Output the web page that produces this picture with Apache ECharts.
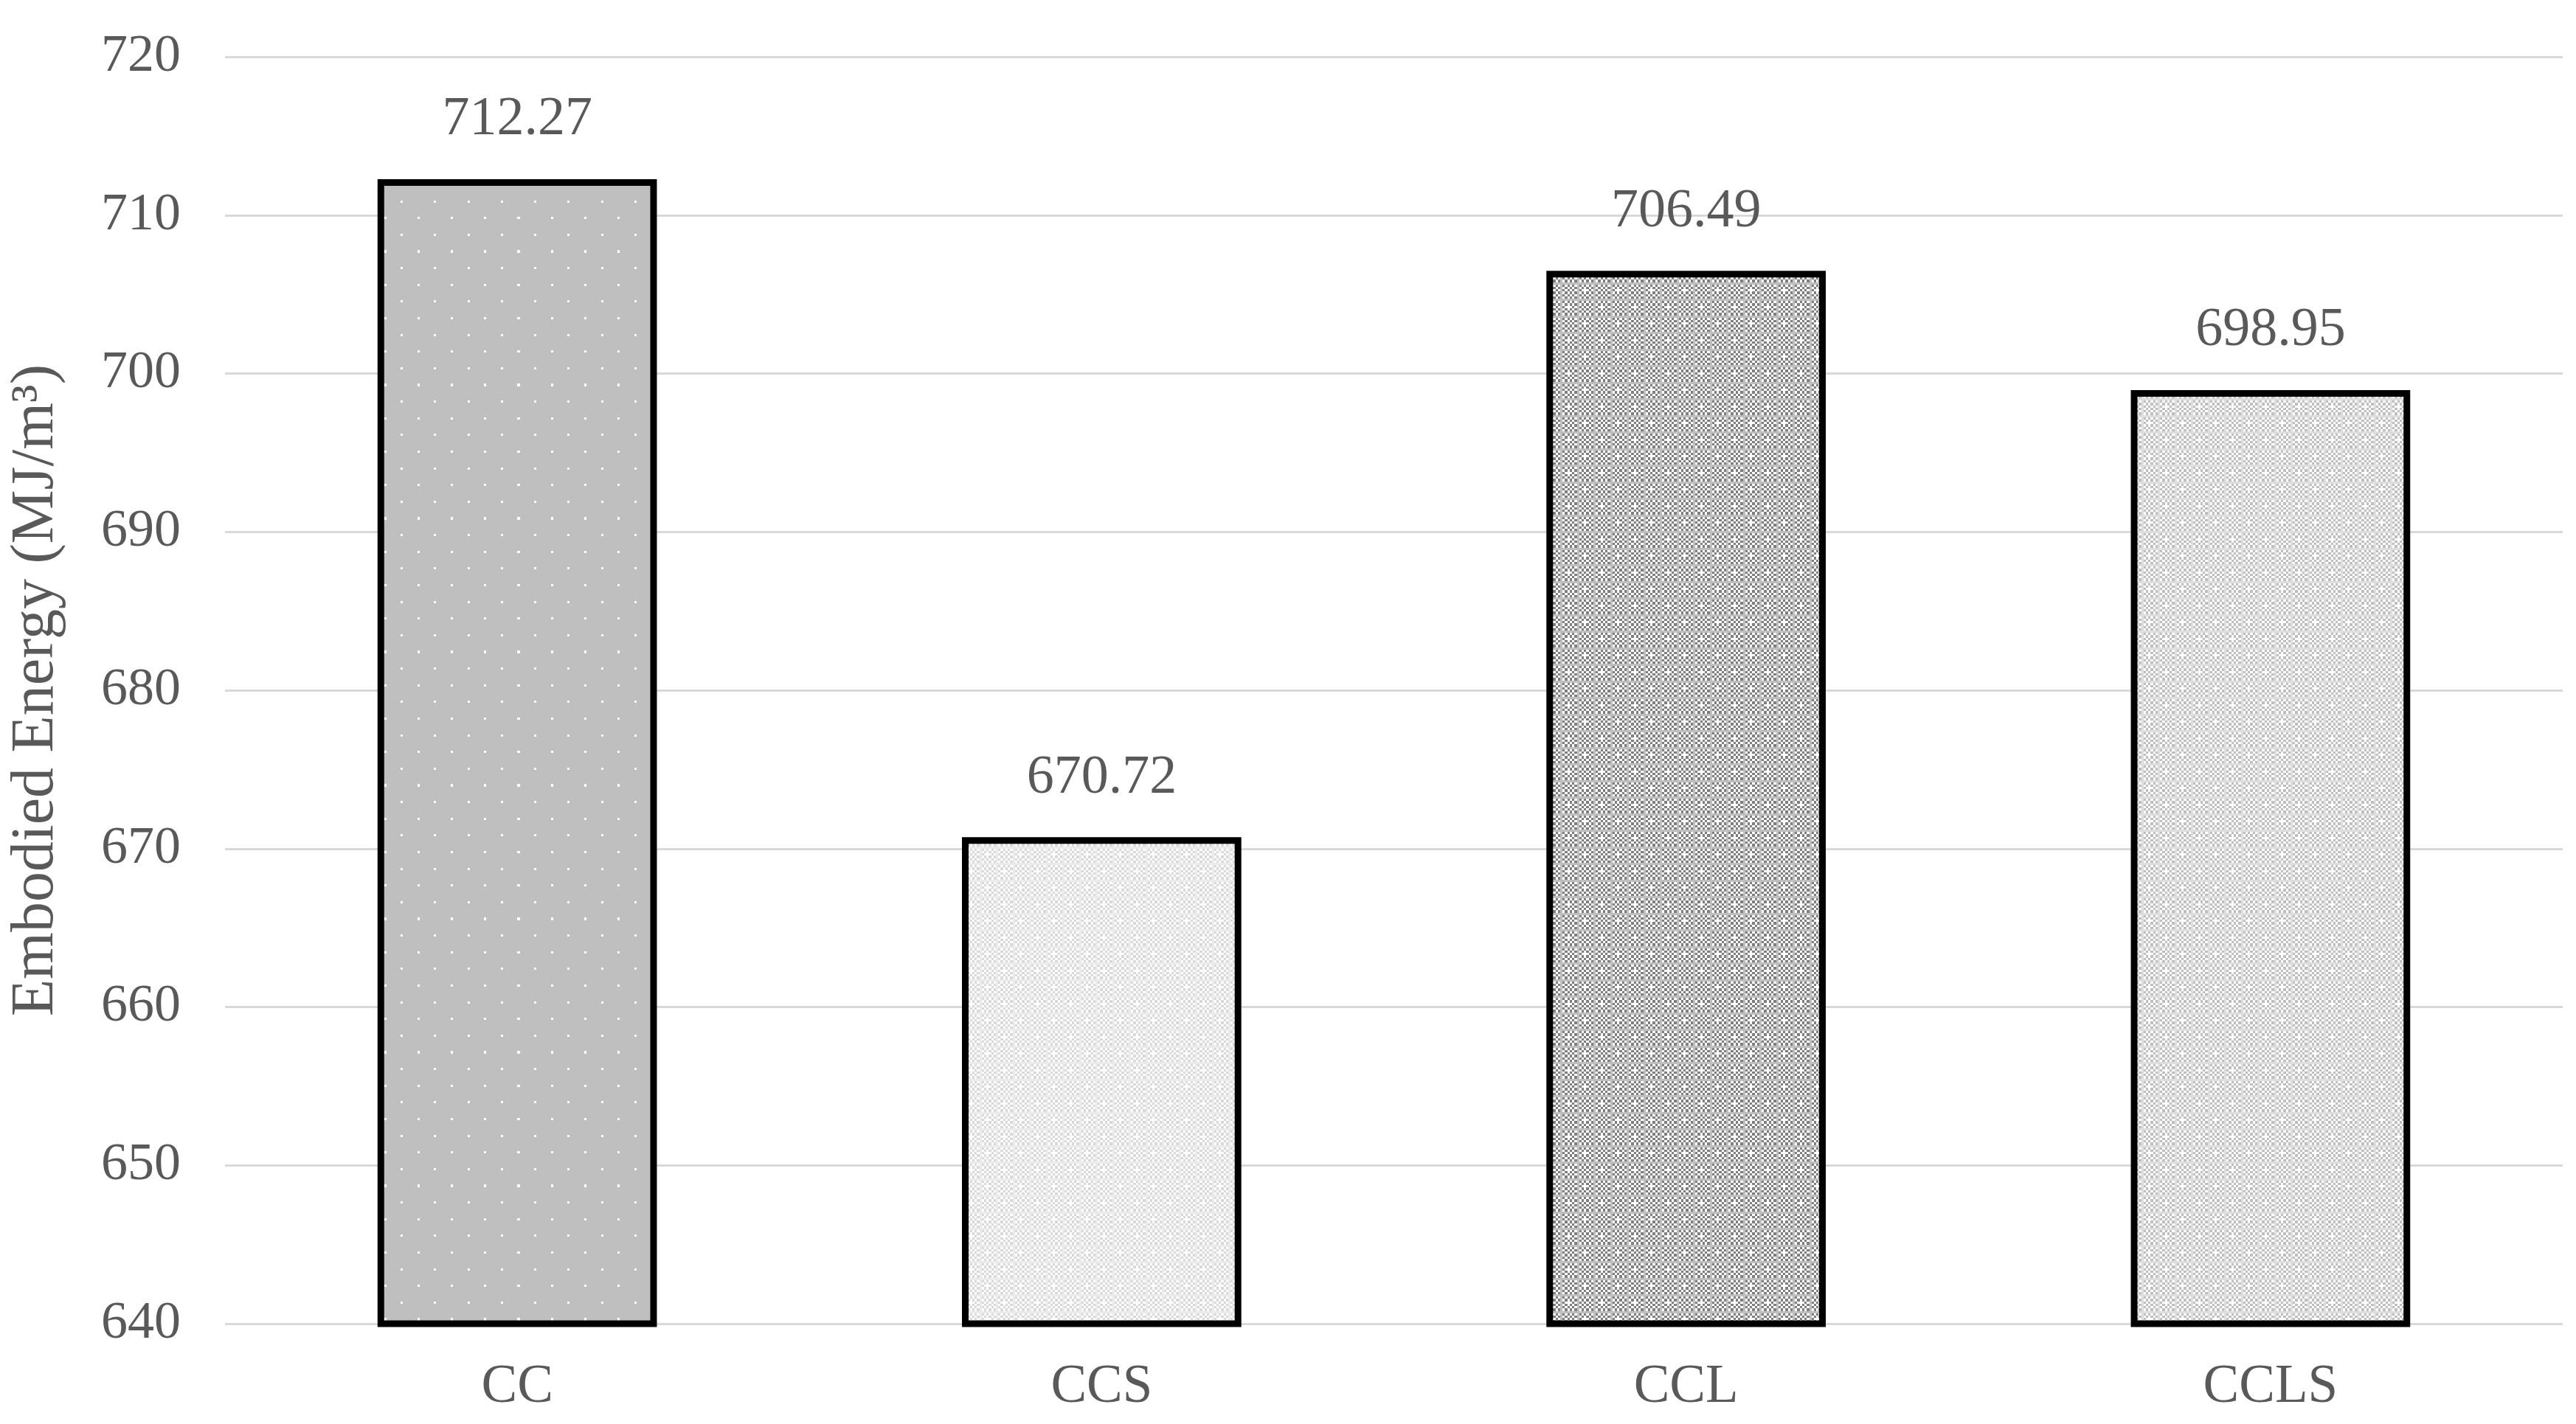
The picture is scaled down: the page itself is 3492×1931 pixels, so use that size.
<!DOCTYPE html>
<html>
<head>
<meta charset="utf-8">
<script src="https://cdn.jsdelivr.net/npm/echarts@6/dist/echarts.min.js"></script>
<style>
html,body{margin:0;padding:0;background:#fff;}
#chart{width:3492px;height:1931px;}
</style>
</head>
<body>
<div id="chart"></div>
<script>
// ---- data ----
const categories = ['CC', 'CCS', 'CCL', 'CCLS'];
const values = [712.27, 670.72, 706.49, 698.95];
const yTicks = { min: 640, max: 720, interval: 10 };
const yAxisTitle = 'Embodied Energy (MJ/m\u00B3)';

// ---- pattern helpers ----
const SCALE = 3.225;
function makeTile(w, h, reps, paint) {
  const size = Math.round(w * reps * SCALE);
  const sizeH = Math.round(h * reps * SCALE);
  const c = document.createElement('canvas');
  c.width = size; c.height = sizeH;
  const ctx = c.getContext('2d');
  const fw = size / (w * reps), fh = sizeH / (h * reps);
  for (let ry = 0; ry < h * reps; ry++) {
    for (let rx = 0; rx < w * reps; rx++) {
      const col = paint(rx % w, ry % h, rx, ry);
      if (!col) continue;
      const x0 = Math.round(rx * fw), x1 = Math.round((rx + 1) * fw);
      const y0 = Math.round(ry * fh), y1 = Math.round((ry + 1) * fh);
      ctx.fillStyle = col;
      ctx.fillRect(x0, y0, x1 - x0, y1 - y0);
    }
  }
  return c;
}
function dotPattern(bg, dot) {
  return makeTile(14, 14, 4, (x, y) => {
    if ((x === 0 && y === 0) || (x === 7 && y === 7)) return dot;
    return bg;
  });
}
function checkPattern(dark, line, light) {
  return makeTile(7, 7, 6, (x, y, rx, ry) => {
    if (x === 0 || y === 0) return line;
    // white plus accents in alternating cells
    const cx = Math.floor(rx / 7), cy = Math.floor(ry / 7);
    if ((cx + cy) % 2 === 0 && ((x === 3 && y >= 2 && y <= 4) || (y === 3 && x >= 2 && x <= 4))) return light;
    return ((x + y) % 2 === 0) ? dark : light;
  });
}
const fills = [
  { image: dotPattern('#bfbfbf', '#ffffff'), repeat: 'repeat' },
  { image: checkPattern('#d9d9d9', '#ebebeb', '#ffffff'), repeat: 'repeat' },
  { image: checkPattern('#7f7f7f', '#bfbfbf', '#ffffff'), repeat: 'repeat' },
  { image: checkPattern('#bfbfbf', '#dedede', '#ffffff'), repeat: 'repeat' }
];

const FONT = '"Liberation Serif", "Times New Roman", serif';
const TXT = '#595959';

const chart = echarts.init(document.getElementById('chart'), null, { renderer: 'canvas' });
chart.setOption({
  animation: false,
  backgroundColor: '#ffffff',
  grid: { left: 296, right: 18, top: 77, bottom: 136, containLabel: false },
  xAxis: {
    type: 'category',
    data: categories,
    axisLine: { show: false },
    axisTick: { show: false },
    axisLabel: { color: TXT, fontFamily: FONT, fontSize: 73, margin: 50 }
  },
  yAxis: {
    type: 'value',
    min: yTicks.min,
    max: yTicks.max,
    interval: yTicks.interval,
    name: yAxisTitle,
    nameLocation: 'middle',
    nameGap: 215,
    nameRotate: 90,
    nameTextStyle: { color: TXT, fontFamily: FONT, fontSize: 82 },
    axisLine: { show: false },
    axisTick: { show: false },
    axisLabel: { color: TXT, fontFamily: FONT, fontSize: 72, margin: 60 },
    splitLine: { lineStyle: { color: '#d9d9d9', width: 3 } }
  },
  series: [{
    type: 'bar',
    barWidth: '47.8%',
    data: values.map((v, i) => ({
      value: v,
      itemStyle: { color: fills[i], borderColor: '#000000', borderWidth: 9 }
    })),
    label: {
      show: true,
      position: 'top',
      distance: 43,
      color: TXT,
      fontFamily: FONT,
      fontSize: 74,
      formatter: (p) => p.value.toFixed(2)
    }
  }]
});
</script>
</body>
</html>
